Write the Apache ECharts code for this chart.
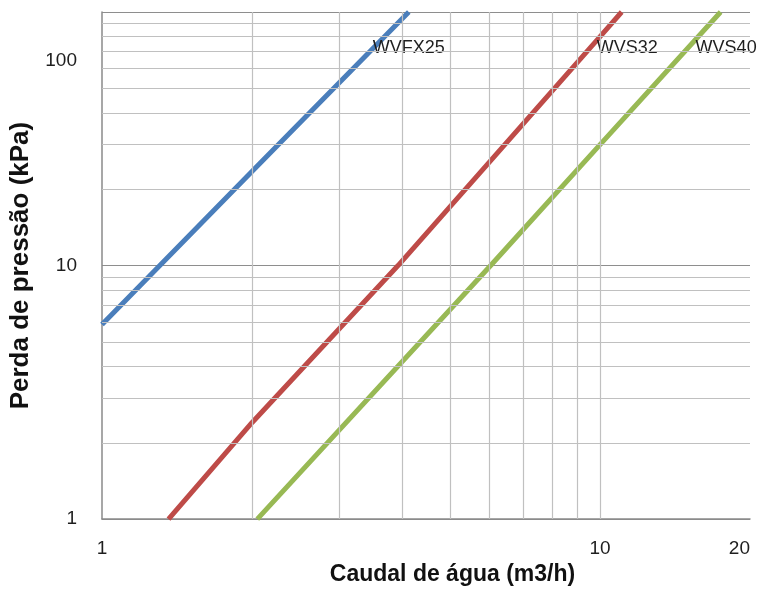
<!DOCTYPE html>
<html>
<head>
<meta charset="utf-8">
<title>Perda de pressão</title>
<script src="https://cdn.jsdelivr.net/npm/echarts@6/dist/echarts.min.js"></script>
<style>
  html, body { margin: 0; padding: 0; background: #ffffff; }
  #chart { width: 757px; height: 591px; }
</style>
</head>
<body>
<div id="chart"></div>
<script>
// Flow (m3/h) and pressure drop (kPa) for each valve model
const wvfx25Flow = [1, 2, 4.13];
const wvfx25Drop = [5.85, 23.5, 100];
const wvs32Flow = [1.36, 2, 3.93, 10, 11.05];
const wvs32Drop = [1, 2.4, 10, 80, 100];
const wvs40Flow = [2.05, 6.03, 10, 17.46];
const wvs40Drop = [1, 10, 30, 100];

const seriesNames = ['WVFX25', 'WVS32', 'WVS40'];

// Axis ranges and secondary grid values
const flowRange = [1, 20];
const dropRange = [1, 100];
const flowGrid = [2, 3, 4, 5, 6, 7, 8, 9, 10];
const dropGrid = [2, 3, 4, 5, 6, 7, 8, 9, 20, 30, 40, 50, 60, 70, 80, 90];

const toPairs = (xs, ys) => xs.map((x, i) => [x, ys[i]]);

const FONT = '"Liberation Sans", Arial, sans-serif';
const lineDefs = [
  { name: seriesNames[0], data: toPairs(wvfx25Flow, wvfx25Drop), color: '#4a7ebb', offset: [-36, 36] },
  { name: seriesNames[1], data: toPairs(wvs32Flow, wvs32Drop), color: '#be4b48', offset: [-25, 36] },
  { name: seriesNames[2], data: toPairs(wvs40Flow, wvs40Drop), color: '#98b954', offset: [-25, 36] }
];

const chart = echarts.init(document.getElementById('chart'), null, { renderer: 'canvas' });

const series = [
  {
    // light secondary grid
    type: 'line',
    name: 'grid',
    data: [],
    z: 1,
    silent: true,
    markLine: {
      silent: true,
      symbol: 'none',
      animation: false,
      label: { show: false },
      lineStyle: { color: '#c0c0c0', width: 1.2, type: 'solid' },
      data: flowGrid.map(v => ({ xAxis: v })).concat(dropGrid.map(v => ({ yAxis: v })))
    }
  }
].concat(lineDefs.map(d => ({
  type: 'line',
  name: d.name,
  data: d.data,
  z: 3,
  showSymbol: false,
  symbol: 'none',
  clip: true,
  lineStyle: { color: d.color, width: 5 },
  itemStyle: { color: d.color },
  endLabel: {
    show: true,
    formatter: '{a}',
    distance: 0,
    offset: d.offset,
    color: '#1e1e1e',
    fontFamily: FONT,
    fontSize: 18
  }
})));

chart.setOption({
  animation: false,
  backgroundColor: '#ffffff',
  grid: { left: 102, right: 7, top: 12, bottom: 70, containLabel: false },
  xAxis: {
    type: 'log',
    logBase: 10,
    min: flowRange[0],
    max: flowRange[1],
    name: 'Caudal de água (m3/h)',
    nameLocation: 'middle',
    nameGap: 43,
    nameTextStyle: {
      fontFamily: FONT, fontSize: 23, fontWeight: 'bold', color: '#111111',
      padding: [0, 0, 0, 53]
    },
    axisLine: { show: true, lineStyle: { color: '#8a8a8a', width: 1.5 } },
    axisTick: { show: false },
    splitLine: { show: false },
    axisLabel: {
      fontFamily: FONT, fontSize: 19, color: '#1e1e1e', margin: 20,
      alignMaxLabel: 'right'
    }
  },
  yAxis: {
    type: 'log',
    logBase: 10,
    min: dropRange[0],
    max: dropRange[1],
    name: 'Perda de pressão (kPa)',
    nameLocation: 'middle',
    nameGap: 68,
    nameTextStyle: {
      fontFamily: FONT, fontSize: 26, fontWeight: 'bold', color: '#111111'
    },
    axisLine: { show: true, lineStyle: { color: '#8a8a8a', width: 1.5 } },
    axisTick: { show: false },
    splitLine: { show: true, lineStyle: { color: '#8e8e8e', width: 1.2 } },
    axisLabel: {
      fontFamily: FONT, fontSize: 19, color: '#1e1e1e', margin: 25,
      formatter: v => (v >= 100 ? '{low|' + v + '}' : String(v)),
      rich: {
        low: { fontFamily: FONT, fontSize: 19, color: '#1e1e1e', padding: [98, 0, 0, 0] }
      }
    }
  },
  series: series
});
</script>
</body>
</html>
